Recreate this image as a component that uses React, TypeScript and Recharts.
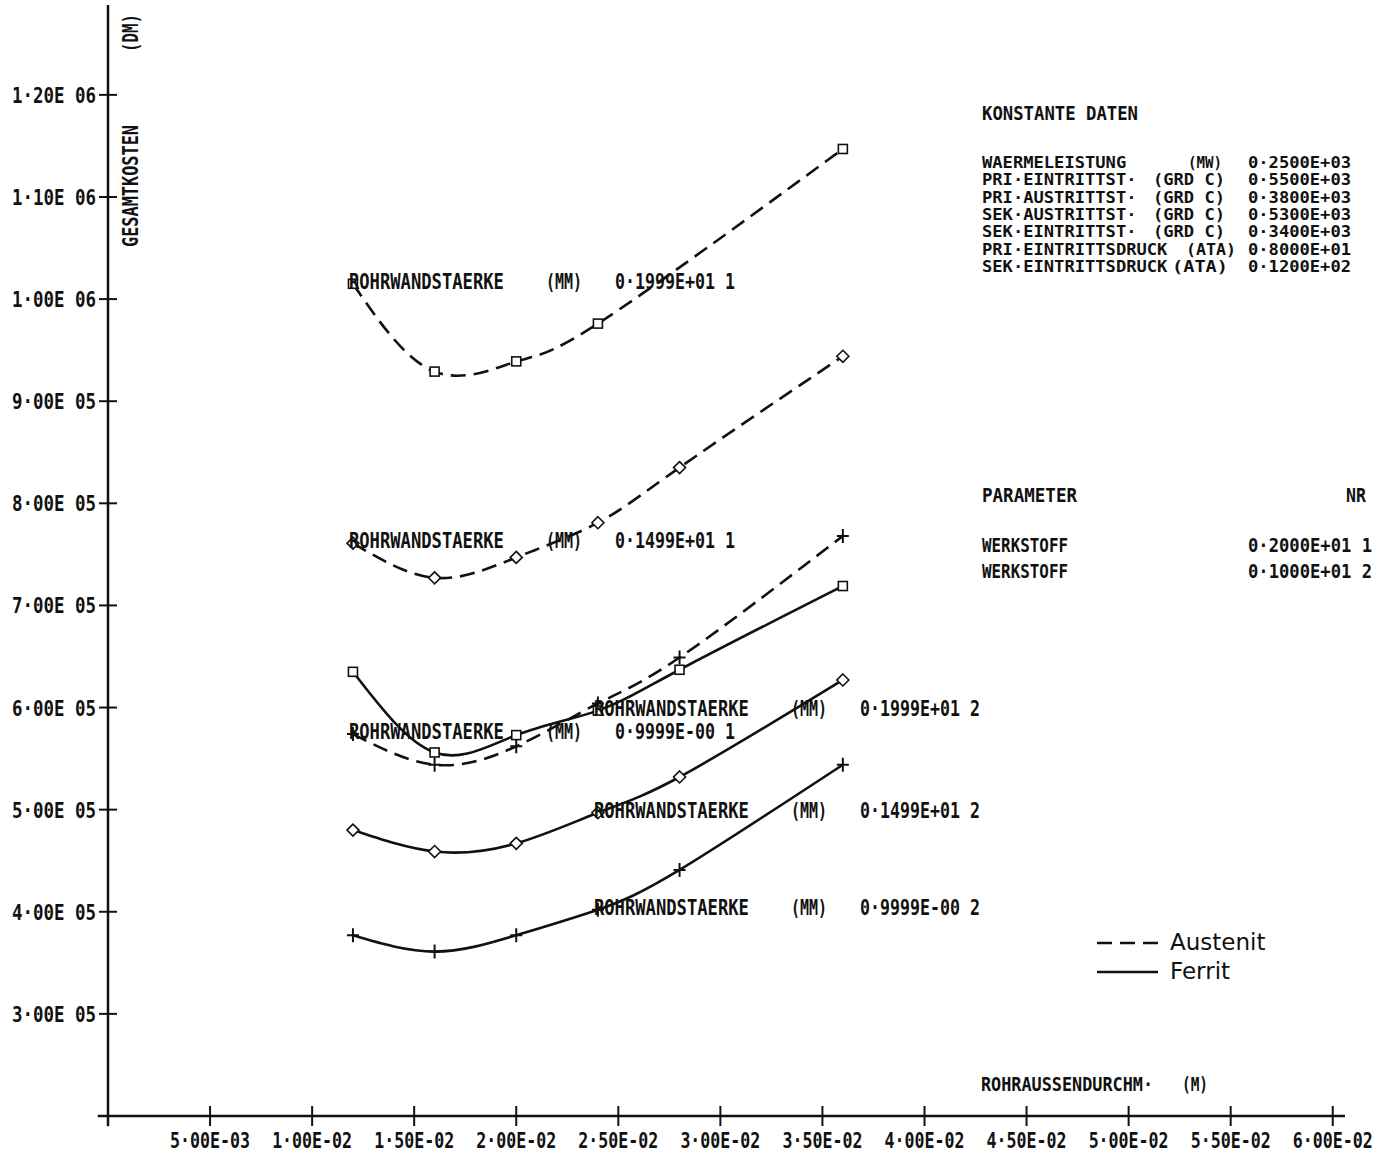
import React from 'react';
import { LineChart, Line, XAxis, YAxis, ReferenceLine, ReferenceDot } from 'recharts';

// Rohraussendurchmesser (m) and Gesamtkosten (DM)
const diameters = [0.012, 0.016, 0.02, 0.024, 0.028, 0.036];

const austenit1999 = [1015000, 929000, 939000, 976000, null, 1147000];
const austenit1499 = [761000, 727000, 747000, 781000, 835000, 944000];
const austenit0999 = [574000, 544000, 562000, 604000, 649000, 768000];
const ferrit1999 = [635000, 556000, 573000, 597000, 637000, 719000];
const ferrit1499 = [480000, 459000, 467000, 497000, 532000, 627000];
const ferrit0999 = [377000, 361000, 377000, 402000, 441000, 544000];

const xTicks = [0.005, 0.01, 0.015, 0.02, 0.025, 0.03, 0.035, 0.04, 0.045, 0.05, 0.055, 0.06];
const xTickLabels = [
  '5·00E-03', '1·00E-02', '1·50E-02', '2·00E-02', '2·50E-02', '3·00E-02',
  '3·50E-02', '4·00E-02', '4·50E-02', '5·00E-02', '5·50E-02', '6·00E-02',
];
const yTicks = [300000, 400000, 500000, 600000, 700000, 800000, 900000, 1000000, 1100000, 1200000];
const yTickLabels = [
  '3·00E 05', '4·00E 05', '5·00E 05', '6·00E 05', '7·00E 05',
  '8·00E 05', '9·00E 05', '1·00E 06', '1·10E 06', '1·20E 06',
];

const materials = ['Austenit', 'Ferrit'];
const materialNr = ['1', '2'];
const wallValues = ['0·1999E+01', '0·1499E+01', '0·9999E-00'];

const konstLabels = [
  'WAERMELEISTUNG', 'PRI·EINTRITTST·', 'PRI·AUSTRITTST·', 'SEK·AUSTRITTST·',
  'SEK·EINTRITTST·', 'PRI·EINTRITTSDRUCK', 'SEK·EINTRITTSDRUCK',
];
const konstUnits = ['(MW)', '(GRD C)', '(GRD C)', '(GRD C)', '(GRD C)', '(ATA)', '(ATA)'];
const konstValues = [
  '0·2500E+03', '0·5500E+03', '0·3800E+03', '0·5300E+03',
  '0·3400E+03', '0·8000E+01', '0·1200E+02',
];
const paramValues = ['0·2000E+01', '0·1000E+01'];

type MarkerKind = 'square' | 'diamond' | 'plus';

const series = [
  { key: 'a1999', values: austenit1999, mat: 0, wall: 0, marker: 'square' as MarkerKind },
  { key: 'a1499', values: austenit1499, mat: 0, wall: 1, marker: 'diamond' as MarkerKind },
  { key: 'a0999', values: austenit0999, mat: 0, wall: 2, marker: 'plus' as MarkerKind },
  { key: 'f1999', values: ferrit1999, mat: 1, wall: 0, marker: 'square' as MarkerKind },
  { key: 'f1499', values: ferrit1499, mat: 1, wall: 1, marker: 'diamond' as MarkerKind },
  { key: 'f0999', values: ferrit0999, mat: 1, wall: 2, marker: 'plus' as MarkerKind },
];

// curve label sits at the first point for material 1, at the fourth for material 2
const labelPoint = [0, 3];

const toPoints = (values: (number | null)[]) =>
  diameters
    .map((d, i) => ({ d, cost: values[i] }))
    .filter((p) => p.cost !== null);

const PITCH = 10.3;
const INK = '#111';

function PlotText({ x, y, text, width, anchor = 'start', size = 22, rotate }: any) {
  return (
    <text
      x={x}
      y={y}
      fontFamily="'DejaVu Sans Mono', monospace"
      fontWeight="bold"
      fontSize={size}
      textLength={width ?? text.length * PITCH}
      lengthAdjust="spacingAndGlyphs"
      textAnchor={anchor}
      fill={INK}
      style={{ whiteSpace: 'pre' }}
      transform={rotate ? `rotate(${rotate} ${x} ${y})` : undefined}
    >
      {text}
    </text>
  );
}

function Marker({ cx, cy, kind, index, sk }: any) {
  if (cx == null || cy == null) return null;
  const k = `${sk}-${index}`;
  if (kind === 'square') {
    return <rect key={k} x={cx - 4.5} y={cy - 4.5} width={9} height={9} fill="#fff" stroke={INK} strokeWidth={1.6} />;
  }
  if (kind === 'diamond') {
    return (
      <path
        key={k}
        d={`M${cx},${cy - 6} L${cx + 6},${cy} L${cx},${cy + 6} L${cx - 6},${cy} Z`}
        fill="#fff"
        stroke={INK}
        strokeWidth={1.6}
      />
    );
  }
  return (
    <path key={k} d={`M${cx - 6},${cy} H${cx + 6} M${cx},${cy - 7} V${cy + 7}`} stroke={INK} strokeWidth={2} fill="none" />
  );
}

function XTick({ x, y, payload }: any) {
  const label = xTickLabels[xTicks.indexOf(payload.value)];
  return (
    <g>
      <line x1={x} x2={x} y1={y - 10} y2={y + 10} stroke={INK} strokeWidth={2} />
      <PlotText x={x} y={y + 32} text={label} anchor="middle" width={80} size={21} />
    </g>
  );
}

function YTick({ x, y, payload }: any) {
  const label = yTickLabels[yTicks.indexOf(payload.value)];
  return (
    <g>
      <line x1={x - 9} x2={x + 9} y1={y} y2={y} stroke={INK} strokeWidth={2} />
      <PlotText x={x - 12} y={y + 8} text={label} anchor="end" width={84} size={21} />
    </g>
  );
}

function CurveLabel({ cx, cy, wall, mat }: any) {
  if (cx == null || cy == null) return null;
  const x0 = cx - 4;
  const y0 = cy + 5;
  return (
    <g>
      <PlotText x={x0} y={y0} text="ROHRWANDSTAERKE" width={155} />
      <PlotText x={x0 + 197} y={y0} text="(MM)" width={36} />
      <PlotText x={x0 + 266} y={y0} text={`${wallValues[wall]} ${materialNr[mat]}`} width={120} />
    </g>
  );
}

export default function App() {
  return (
    <div style={{ position: 'absolute', left: 0, top: 0, width: 1393, height: 1152, background: '#fff' }}>
      <LineChart width={1393} height={1152} margin={{ top: 5, right: 48, bottom: 0, left: 8 }}>
        <XAxis
          type="number"
          dataKey="d"
          domain={[0, 0.0606]}
          ticks={xTicks}
          interval={0}
          height={36}
          axisLine={false}
          tickLine={false}
          tickSize={0}
          tickMargin={0}
          tick={(p: any) => <XTick {...p} />}
        />
        <YAxis
          type="number"
          domain={[200000, 1288000]}
          ticks={yTicks}
          interval={0}
          width={100}
          axisLine={false}
          tickLine={false}
          tickSize={0}
          tickMargin={0}
          tick={(p: any) => <YTick {...p} />}
        />
        <ReferenceLine
          segment={[{ x: -0.0005, y: 200000 }, { x: 0.0606, y: 200000 }]}
          stroke={INK}
          strokeWidth={2.5}
          ifOverflow="visible"
        />
        <ReferenceLine
          segment={[{ x: 0, y: 190000 }, { x: 0, y: 1288000 }]}
          stroke={INK}
          strokeWidth={2.5}
          ifOverflow="visible"
        />
        {series.map((s) => (
          <Line
            key={s.key}
            data={toPoints(s.values)}
            dataKey="cost"
            type="natural"
            stroke={INK}
            strokeWidth={2.6}
            strokeDasharray={s.mat === 0 ? '15 8' : undefined}
            dot={(p: any) => <Marker key={`${s.key}-${p.index}`} {...p} kind={s.marker} sk={s.key} />}
            activeDot={false}
            isAnimationActive={false}
          />
        ))}
        {series.map((s) => {
          const i = labelPoint[s.mat];
          return (
            <ReferenceDot
              key={`lbl-${s.key}`}
              x={diameters[i]}
              y={s.values[i] as number}
              r={0}
              shape={(p: any) => <CurveLabel {...p} wall={s.wall} mat={s.mat} />}
            />
          );
        })}
      </LineChart>

      <svg width={1393} height={1152} style={{ position: 'absolute', left: 0, top: 0, pointerEvents: 'none' }}>
        {/* axis titles */}
        <PlotText x={138} y={186} text="GESAMTKOSTEN" width={122} anchor="middle" rotate={-90} size={21} />
        <PlotText x={138} y={33} text="(DM)" width={38} anchor="middle" rotate={-90} size={21} />
        <PlotText x={981} y={1091} text="ROHRAUSSENDURCHM·" width={172} size={19} />
        <PlotText x={1182} y={1091} text="(M)" width={26} size={19} />

        {/* constant data block */}
        <PlotText x={982} y={120} text="KONSTANTE DATEN" width={156} size={20} />
        {konstLabels.map((t, i) => {
          const y = 168 + i * 17.3;
          const unitX = [1188, 1153, 1153, 1153, 1153, 1186, 1172][i];
          const unitW = [34, 72, 72, 72, 72, 50, 56][i];
          return (
            <g key={t}>
              <PlotText x={982} y={y} text={t} size={16} />
              <PlotText x={unitX} y={y} text={konstUnits[i]} width={unitW} size={16} />
              <PlotText x={1248} y={y} text={konstValues[i]} width={103} size={16} />
            </g>
          );
        })}

        {/* parameter block */}
        <PlotText x={982} y={502} text="PARAMETER" width={95} size={19} />
        <PlotText x={1346} y={502} text="NR" width={20} size={19} />
        {paramValues.map((v, i) => (
          <g key={v}>
            <PlotText x={982} y={552 + i * 26} text="WERKSTOFF" width={86} size={19} />
            <PlotText x={1248} y={552 + i * 26} text={`${v} ${materialNr[i]}`} width={124} size={19} />
          </g>
        ))}

        {/* legend */}
        {materials.map((m, i) => (
          <g key={m}>
            <line
              x1={1097}
              x2={1158}
              y1={943 + i * 29}
              y2={943 + i * 29}
              stroke={INK}
              strokeWidth={2.6}
              strokeDasharray={i === 0 ? '15 8' : undefined}
            />
            <text x={1170} y={950 + i * 29} fontFamily="'DejaVu Sans', sans-serif" fontSize={23} fill={INK}>
              {m}
            </text>
          </g>
        ))}
      </svg>
    </div>
  );
}
